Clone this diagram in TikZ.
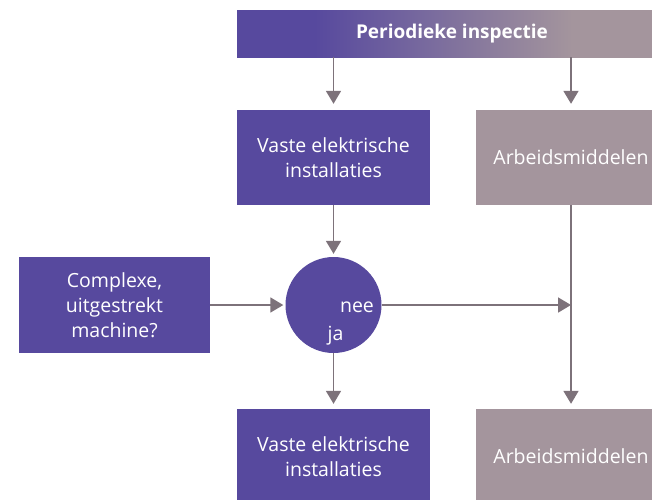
\documentclass[tikz,border=0pt]{standalone}
\usepackage{fontspec}
\setmainfont{Open Sans}
\usetikzlibrary{arrows.meta, shapes}

\definecolor{paars}{RGB}{87,73,158}
\definecolor{mauve}{RGB}{164,149,157}
\definecolor{pijlgrijs}{RGB}{125,114,122}

\pgfdeclarehorizontalshading{balkshade}{100bp}{color(0bp)=(paars); color(34bp)=(paars); color(64bp)=(mauve); color(100bp)=(mauve)}

\begin{document}
\begin{tikzpicture}[x=1pt, y=-1pt,
    blok/.style={rectangle, text=white, align=center, inner sep=0pt,
        font=\fontsize{19.5}{25}\selectfont},
    pijl/.style={draw=pijlgrijs, line width=1.8pt,
        -{Triangle[length=13pt, width=15pt]}},
    lijn/.style={draw=pijlgrijs, line width=1.8pt}]
        \useasboundingbox (0,0) rectangle (652,499);
        \clip (0,0) rectangle (652,499);

        % Top bar
        \node[blok, shading=balkshade, minimum width=430pt, minimum height=47pt,
        font=\fontsize{19}{25}\selectfont\bfseries] (inspectie) at (452,33.5)
        {Periodieke inspectie};

        % Upper boxes
        \node[blok, fill=paars, minimum width=193pt, minimum height=95pt]
        (vaste1) at (333.5,157.5) {Vaste elektrische\\installaties};
        \node[blok, fill=mauve, minimum width=190pt, minimum height=95pt]
        (arbeid1) at (571,157.5) {Arbeidsmiddelen};

        % Question box and decision circle
        \node[blok, fill=paars, minimum width=191pt, minimum height=96pt]
        (vraag) at (114.5,305) {Complexe,\\uitgestrekt\\machine?};
        \node[blok, circle, fill=paars, minimum size=96pt] (kring) at
        (333.5,305) {};
        \node[blok, anchor=base] (nee) at (357,312) {nee};
        \node[blok, anchor=base] (ja) at (335.5,340) {ja};

        % Lower boxes
        \node[blok, fill=paars, minimum width=193pt, minimum height=95pt]
        (vaste2) at (333.5,456.5) {Vaste elektrische\\installaties};
        \node[blok, fill=mauve, minimum width=190pt, minimum height=95pt]
        (arbeid2) at (571,456.5) {Arbeidsmiddelen};

        % Connectors
        \coordinate (kruising) at (571,305);
        \draw[pijl, shorten >=6pt] (inspectie.south -| vaste1.north) --
        (vaste1.north);
        \draw[pijl, shorten >=6pt] (inspectie.south -| arbeid1.north) --
        (arbeid1.north);
        \draw[pijl, shorten >=3pt] (vaste1.south) -- (kring.north);
        \draw[pijl, shorten >=2pt] (vraag.east) -- (kring.west);
        \draw[pijl] (kring.east) -- (kruising);
        \draw[lijn] (arbeid1.south) -- (kruising);
        \draw[pijl, shorten >=5pt] (kruising) -- (arbeid2.north);
        \draw[pijl, shorten >=5pt] (kring.south) -- (vaste2.north);
    \end{tikzpicture}
\end{document}
